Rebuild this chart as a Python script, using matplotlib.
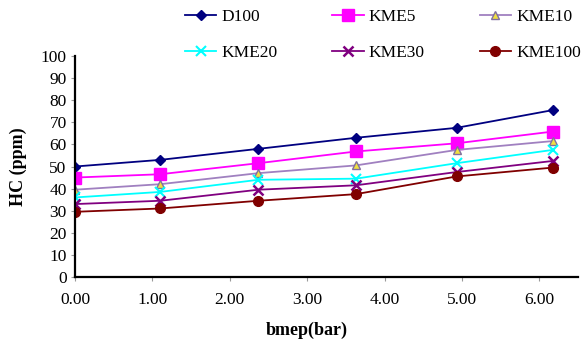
import matplotlib
matplotlib.use('Agg')
import matplotlib.pyplot as plt
from matplotlib.ticker import FormatStrFormatter

plt.rcParams['font.family'] = ['Liberation Serif', 'DejaVu Serif']

# data
bmep = [0.0, 1.1, 2.37, 3.63, 4.93, 6.17]
d100 = [50, 53, 58, 63, 67.5, 75.5]
kme5 = [45, 46.5, 51.5, 56.8, 60.5, 65.8]
kme10 = [39.5, 42, 47, 50.5, 57.5, 61.5]
kme20 = [36, 38.5, 44, 44.5, 51.5, 57.5]
kme30 = [33, 34.5, 39.5, 41.5, 47.5, 52.5]
kme100 = [29.5, 31, 34.5, 37.5, 45.5, 49.5]

fig = plt.figure(figsize=(5.87, 3.43), dpi=100)
ax = fig.add_axes([0.1278, 0.1924, 0.857, 0.6443])

l1, = ax.plot(bmep, d100, color='#000080', marker='D', markersize=5, lw=1.3, label='D100')
l2, = ax.plot(bmep, kme5, color='#ff00ff', marker='s', markersize=8, lw=1.3, label='KME5')
l3, = ax.plot(bmep, kme10, color='#a080c0', marker='^', markersize=6, lw=1.3,
              markerfacecolor='#f0e040', markeredgecolor='#8070a0', label='KME10')
l4, = ax.plot(bmep, kme20, color='#00ffff', marker='x', markersize=7, mew=1.5, lw=1.3, label='KME20')
l5, = ax.plot(bmep, kme30, color='#800080', marker='x', markersize=7, mew=1.8, lw=1.3, label='KME30')
l6, = ax.plot(bmep, kme100, color='#800000', marker='o', markersize=7, lw=1.3, label='KME100')

ax.set_xlim(0, 6.5)
ax.set_ylim(0, 100)
ax.set_xticks(range(0, 7))
ax.set_yticks(range(0, 101, 10))
ax.xaxis.set_major_formatter(FormatStrFormatter('%.2f'))
ax.tick_params(labelsize=12.5, length=3, color='#999999', pad=3)
ax.tick_params(axis='x', pad=8)

for s in ['top', 'right']:
    ax.spines[s].set_visible(False)
for s in ['left', 'bottom']:
    ax.spines[s].set_linewidth(1.6)

ax.set_xlabel('bmep(bar)', fontsize=13, fontweight='bold')
ax.xaxis.set_label_coords(0.461, -0.2)
ax.set_ylabel('HC (ppm)', fontsize=13, fontweight='bold')
ax.yaxis.set_label_coords(-0.095, 0.5)

# legend filled row by row like the reference
handles = [l1, l4, l2, l5, l3, l6]
ax.legend(handles, [h.get_label() for h in handles], ncol=3, loc='lower left',
          bbox_to_anchor=(0.205, 0.945), frameon=False,
          fontsize=12.5, handlelength=1.8, handletextpad=0.3, columnspacing=3.15,
          labelspacing=1.15, borderaxespad=0)

fig.savefig('out.png', dpi=100)
